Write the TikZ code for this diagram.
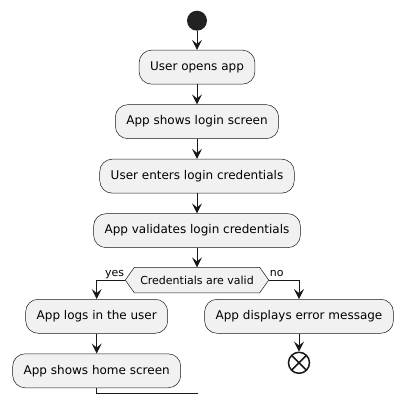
\documentclass[tikz,border=0pt]{standalone}
\usepackage{fontspec}
\setmainfont{DejaVu Sans}
\usetikzlibrary{positioning,arrows.meta,backgrounds}
\definecolor{myfill}{RGB}{241,241,241}
\definecolor{myline}{RGB}{24,24,24}
\definecolor{mystart}{RGB}{34,34,34}
\newcommand{\heightaction}{34pt}
\newcommand{\gapaction}{20pt}
\newcommand{\widthpoint}{9pt}
\tikzset{
    common/.style={draw=myline, fill=myfill, line width=0.5pt},
    action/.style={common, rectangle, rounded corners=12.5pt, minimum height=\heightaction, inner xsep=11pt, font=\fontsize{12}{14}\selectfont},
    decision/.style={rectangle, minimum height=25pt, minimum width=125pt, inner xsep=3pt, font=\fontsize{11}{13}\selectfont},
    branch/.style={font=\fontsize{11}{13}\selectfont, inner sep=1pt},
    flow/.style={draw=myline, line width=1pt, -{Stealth[length=10pt, width=10pt, inset=4pt]}},
    start/.style={circle, fill=mystart, minimum size=20pt, inner sep=0pt},
    stop/.style={circle, draw=myline, line width=1.5pt, minimum size=21pt, inner sep=0pt,
        path picture={
            \draw[myline, line width=1.5pt]
                (path picture bounding box.south east)--(path picture bounding box.north west)
                (path picture bounding box.south west)--(path picture bounding box.north east);
        }
    }
}

\begin{document}
\begin{tikzpicture}[x=1pt, y=-1pt, node distance=\gapaction]
    \useasboundingbox (0,0) rectangle (405,404);

    \node[start] (start) at (197,20.7) {};
    \node[action, below=19pt of start] (open) {User opens app};
    \node[action, below=of open] (show) {App shows login screen};
    \node[action, below=of show] (enter) {User enters login credentials};
    \node[action, below=of enter] (validate) {App validates login credentials};
    \node[decision, below=19.5pt of validate] (valid) {Credentials are valid};
    \coordinate (valid-l) at ([xshift=-\widthpoint]valid.west);
    \coordinate (valid-r) at ([xshift=\widthpoint]valid.east);
    \begin{scope}[on background layer]
        \draw[common] (valid-l) -- (valid.north west) -- (valid.north east) -- (valid-r)
            -- (valid.south east) -- (valid.south west) -- cycle;
    \end{scope}

    \node[action] (login) at (96.7,316.3) {App logs in the user};
    \node[action] (error) at (299,316.3) {App displays error message};
    \node[action, below=of login] (home) {App shows home screen};
    \node[stop, below=18pt of error] (end) {};
    \coordinate (merge) at (198.3,393.3);

    \node[branch, anchor=base east] at ([yshift=3.5pt]valid-l) {yes};
    \node[branch, anchor=base west] at ([yshift=3.5pt]valid-r) {no};

    \draw[flow] (start) -- (open);
    \draw[flow] (open) -- (show);
    \draw[flow] (show) -- (enter);
    \draw[flow] (enter) -- (validate);
    \draw[flow] (validate) -- (valid);
    \draw[flow] (valid-l) -| (login);
    \draw[flow] (valid-r) -| (error);
    \draw[flow] (login) -- (home);
    \draw[flow] (error) -- (end);
    \draw[draw=myline, line width=1pt] (home.south) |- (merge);
\end{tikzpicture}
\end{document}
